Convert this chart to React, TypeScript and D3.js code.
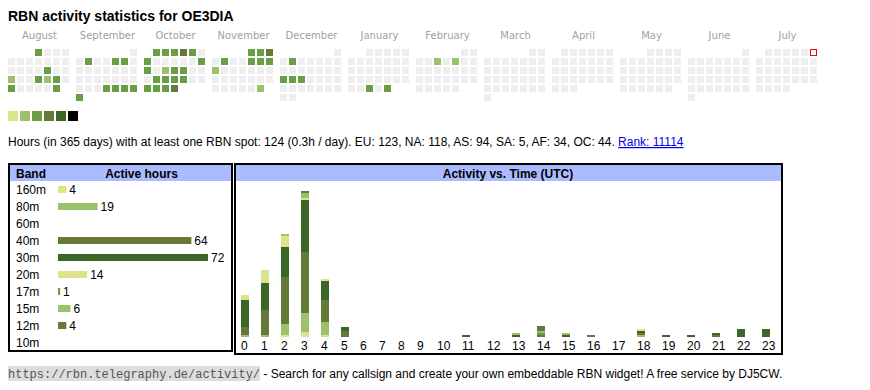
import * as d3 from "d3";
import React from "react";

const W = 870;
const H = 390;

const SANS = "'Liberation Sans', Arial, sans-serif";
const VERD = "'DejaVu Sans', Verdana, sans-serif";
const MONO = "'Liberation Mono', 'Courier New', monospace";

// calendar
const firstMonth = "2024-08-01";
const lastMonth = "2025-07-01";
const today = "2025-07-06";
const levelColors = ["#eeeeee", "#dce38a", "#9dc06a", "#6a9e46", "#657a3a", "#3a6628", "#000000"];
const activeDays: [string, number][] = [
  ["2024-08-01", 3], ["2024-08-16", 3], ["2024-08-19", 2], ["2024-08-22", 3],
  ["2024-08-23", 2], ["2024-08-24", 3], ["2024-08-26", 3], ["2024-08-31", 3],
  ["2024-09-03", 3], ["2024-09-06", 3], ["2024-09-07", 3], ["2024-09-26", 3],
  ["2024-09-27", 3], ["2024-09-28", 3], ["2024-09-29", 3], ["2024-09-30", 3],
  ["2024-10-01", 3], ["2024-10-02", 3], ["2024-10-03", 3], ["2024-10-04", 4],
  ["2024-10-05", 3], ["2024-10-07", 3], ["2024-10-13", 3], ["2024-10-14", 3],
  ["2024-10-16", 2], ["2024-10-17", 3], ["2024-10-18", 3], ["2024-10-22", 3],
  ["2024-10-23", 3], ["2024-10-24", 3], ["2024-10-25", 3], ["2024-10-28", 3],
  ["2024-10-29", 3], ["2024-10-30", 3], ["2024-10-31", 4],
  ["2024-11-01", 3], ["2024-11-02", 3], ["2024-11-03", 4], ["2024-11-05", 3],
  ["2024-11-08", 3], ["2024-11-09", 3], ["2024-11-10", 3], ["2024-11-11", 2],
  ["2024-11-30", 2],
  ["2024-12-03", 3], ["2024-12-16", 3], ["2024-12-17", 3], ["2024-12-18", 3],
  ["2025-01-29", 3], ["2025-01-31", 3],
  ["2025-02-05", 2], ["2025-02-07", 2],
];

// bands
const bands = ["160m", "80m", "60m", "40m", "30m", "20m", "17m", "15m", "12m", "10m"];
const bandHours = [4, 19, 0, 64, 72, 14, 1, 6, 4, 0];
const bandColors = ["#dce38a", "#9dc06a", "#6a9e46", "#657a3a", "#3a6628", "#dce38a", "#6a9e46", "#9dc06a", "#657a3a", "#3a6628"];

// activity per UTC hour, per band
const hours = d3.range(24);
const act160 = [0, 0, 1, 2.5, 1, 0, 0, 0, 0, 0, 0, 0, 0, 0, 0, 0, 0, 0, 0, 0, 0, 0, 0, 0];
const act80 = [1, 1, 5.5, 9.5, 6.5, 0, 0, 0, 0, 0, 0, 0, 0, 0, 0, 0, 0, 0, 1, 0, 0, 0, 0, 0];
const act60 = [0, 0, 0, 0, 0, 0, 0, 0, 0, 0, 0, 0, 0, 0, 0, 0, 0, 0, 0, 0, 0, 0, 0, 0];
const act40 = [4, 12.5, 23.5, 30.5, 11, 3, 0, 0, 0, 0, 0, 0, 0, 0, 1, 0, 1, 0, 1, 0, 0, 1, 0, 0];
const act30 = [13.5, 13.5, 15, 26, 9.5, 2, 0, 0, 0, 0, 0, 1, 0, 1, 0, 1, 0, 0, 1, 1, 1, 1, 4, 4];
const act20 = [2.5, 6.5, 5.5, 1, 1, 0, 0, 0, 0, 0, 0, 0, 0, 0, 0, 0, 0, 0, 1, 0, 0, 0, 0, 0];
const act17 = [0, 0, 0, 0, 0, 0, 0, 0, 0, 0, 0, 0, 0, 0, 1, 0, 0, 0, 0, 0, 0, 0, 0, 0];
const act15 = [0, 0, 1, 2.5, 0, 0, 0, 0, 0, 0, 0, 0, 0, 1, 1, 1, 0, 0, 0, 0, 0, 0, 0, 0];
const act12 = [0, 0, 0, 1, 0, 0, 0, 0, 0, 0, 0, 0, 0, 0, 2.5, 0, 0, 0, 0, 0, 0, 0, 0, 0];
const act10 = [0, 0, 0, 0, 0, 0, 0, 0, 0, 0, 0, 0, 0, 0, 0, 0, 0, 0, 0, 0, 0, 0, 0, 0];
const bandActivity = [act160, act80, act60, act40, act30, act20, act17, act15, act12, act10];

const parse = d3.timeParse("%Y-%m-%d");
const fmt = d3.timeFormat("%Y-%m-%d");

export default function App() {
  /* ---------- calendar ---------- */
  const monthList = d3.timeMonth.range(parse(firstMonth)!, d3.timeMonth.offset(parse(lastMonth)!, 1));
  const monthX = d3.scaleLinear().domain([0, 1]).range([8, 76]);
  const colX = d3.scaleLinear().domain([0, 1]).range([0, 9]);
  const rowY = d3.scaleLinear().domain([0, 1]).range([49, 58]);
  const levelOf = new Map(activeDays);
  const monthName = d3.timeFormat("%B");

  const cells: { x: number; y: number; key: string; level: number }[] = [];
  monthList.forEach((m, mi) => {
    const days = d3.timeDay.range(m, d3.timeMonth.offset(m, 1));
    days.forEach((d) => {
      const col = (d.getDay() + 6) % 7;
      const row = d3.timeMonday.count(m, d);
      const key = fmt(d);
      cells.push({ x: monthX(mi) + colX(col), y: rowY(row), key, level: levelOf.get(key) ?? 0 });
    });
  });

  /* ---------- band table ---------- */
  const bandX = d3.scaleLinear().domain([0, 72]).range([58, 208]);
  const rowBase = d3.scaleLinear().domain([0, 1]).range([193.5, 210.5]);

  /* ---------- activity vs time ---------- */
  const hourX = d3.scaleLinear().domain([0, 5, 9, 10, 23]).range([241, 341, 417, 437, 762]);
  const y = d3.scaleLinear().domain([0, 73]).range([337, 191]);
  const rows = hours.map((h) => {
    const r: Record<string, number> = { hour: h };
    bands.forEach((b, i) => (r[b] = bandActivity[i][h]));
    return r;
  });
  const series = d3.stack<Record<string, number>>().keys(bands)(rows);

  return (
    <svg width={W} height={H} style={{ position: "absolute", left: 0, top: 0, background: "#fff" }}>
      <text x={8} y={21} fontFamily={SANS} fontWeight="bold" fontSize={14} fill="#000">
        RBN activity statistics for OE3DIA
      </text>

      {monthList.map((m, mi) => (
        <text key={mi} x={monthX(mi) + 31.5} y={38.5} textAnchor="middle" fontFamily={VERD} fontSize={10} fill="#a0a0a0">
          {monthName(m)}
        </text>
      ))}
      {cells.map((c) =>
        c.key === today ? (
          <rect key={c.key} x={c.x + 0.5} y={c.y + 0.5} width={6} height={6} fill="#fff" stroke="#ff0000" strokeWidth={1} />
        ) : (
          <rect key={c.key} x={c.x} y={c.y} width={7} height={7} fill={levelColors[c.level]} />
        )
      )}
      {levelColors.slice(1).map((c, i) => (
        <rect key={i} x={8 + i * 12} y={111} width={10} height={10} fill={c} />
      ))}

      <text x={8} y={146} fontFamily={SANS} fontSize={12} fill="#000">
        Hours (in 365 days) with at least one RBN spot: 124 (0.3h / day). EU: 123, NA: 118, AS: 94, SA: 5, AF: 34, OC: 44.{" "}
        <tspan fill="#0000ee" textDecoration="underline">Rank: 11114</tspan>
      </text>

      {/* band table */}
      <rect x={10} y={165} width={221} height={16} fill="#aabbff" />
      <rect x={9} y={164} width={223} height={187} fill="none" stroke="#000" strokeWidth={2} />
      <text x={16} y={178} fontFamily={SANS} fontWeight="bold" fontSize={12}>Band</text>
      <text x={141.5} y={178} textAnchor="middle" fontFamily={SANS} fontWeight="bold" fontSize={12}>Active hours</text>
      {bands.map((b, i) => (
        <g key={b}>
          <text x={16} y={rowBase(i)} fontFamily={SANS} fontSize={12}>{b}</text>
          {bandHours[i] > 0 && (
            <>
              <rect x={bandX(0)} y={rowBase(i) - 7.5} width={bandX(bandHours[i]) - bandX(0)} height={7} fill={bandColors[i]} />
              <text x={bandX(bandHours[i]) + 3} y={rowBase(i)} fontFamily={SANS} fontSize={12}>{bandHours[i]}</text>
            </>
          )}
        </g>
      ))}

      {/* activity vs time */}
      <rect x={236} y={165} width={545} height={16} fill="#aabbff" />
      <rect x={235} y={164} width={547} height={190} fill="none" stroke="#000" strokeWidth={2} />
      <text x={508} y={178} textAnchor="middle" fontFamily={SANS} fontWeight="bold" fontSize={12}>Activity vs. Time (UTC)</text>
      {series.map((s, i) => (
        <g key={s.key} fill={bandColors[i]}>
          {s.map((d, h) =>
            d[1] > d[0] ? <rect key={h} x={hourX(h)} y={y(d[1])} width={8} height={y(d[0]) - y(d[1])} /> : null
          )}
        </g>
      ))}
      {hours.map((h) => (
        <text key={h} x={hourX(h)} y={350} fontFamily={SANS} fontSize={12}>{h}</text>
      ))}

      {/* footer */}
      <rect x={8} y={366} width={252} height={15} fill="#dddddd" />
      <text x={8} y={378} fontFamily={MONO} fontSize={12} fill="#555">https://rbn.telegraphy.de/activity/</text>
      <text x={263.3} y={378} fontFamily={SANS} fontSize={12} fill="#000">
        - Search for any callsign and create your own embeddable RBN widget! A free service by DJ5CW.
      </text>
    </svg>
  );
}
